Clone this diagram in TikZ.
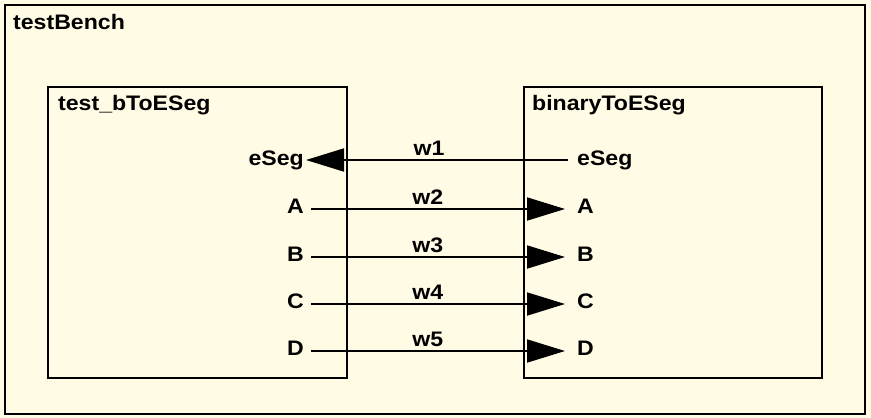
\documentclass[tikz,border=0pt]{standalone}
\usepackage{fontspec}
\setmainfont{Liberation Sans}[FakeStretch=1.1]
\usetikzlibrary{arrows.meta}
\definecolor{benchbg}{RGB}{255,251,228}
\tikzset{
  modbox/.style={draw, line width=2.4pt, inner sep=0pt},
  portlbl/.style={font=\bfseries\fontsize{21}{25}\selectfont, inner sep=0pt},
  wirelbl/.style={portlbl, anchor=base, yshift=5pt},
  wire/.style={line width=1.8pt, -{Triangle[length=38pt, width=23pt]}},
}
\begin{document}
\begin{tikzpicture}[x=1pt, y=-1pt]
  \useasboundingbox (0,0) rectangle (871,418);
  \fill[benchbg] (0,0) rectangle (871,418);
  % modules
  \node[modbox, minimum width=860pt, minimum height=409pt] (bench) at (435,209.5) {};
  \node[modbox, minimum width=299pt, minimum height=291pt] (tester) at (197.5,232.5) {};
  \node[modbox, minimum width=298pt, minimum height=291pt] (conv) at (673,232.5) {};
  \node[portlbl, anchor=base west] (benchname) at (13,29) {testBench};
  \node[portlbl, anchor=base west] (testername) at (58,110) {test\_bToESeg};
  \node[portlbl, anchor=base west] (convname) at (532,110) {binaryToESeg};
  % ports
  \node[portlbl, anchor=base east] (tE) at (304,165) {eSeg};
  \node[portlbl, anchor=base west] (bE) at (577,165) {eSeg};
  \foreach \p/\yy in {A/209,B/257,C/304,D/351} {
    \node[portlbl, anchor=base east] (t\p) at (304,\yy+4) {\p};
    \node[portlbl, anchor=base west] (b\p) at (577,\yy+4) {\p};
  }
  % wires
  \draw[wire] ([shift={(-9,-5)}]bE.base west) -- node[wirelbl, pos=0.53] (w1) {w1} ([shift={(2,-5)}]tE.base east);
  \foreach \p/\w in {A/w2,B/w3,C/w4,D/w5}
    \draw[wire] ([shift={(7,-4)}]t\p.base east) -- node[wirelbl, pos=0.46] (\w) {\w} ([shift={(-12,-4)}]b\p.base west);
\end{tikzpicture}
\end{document}
